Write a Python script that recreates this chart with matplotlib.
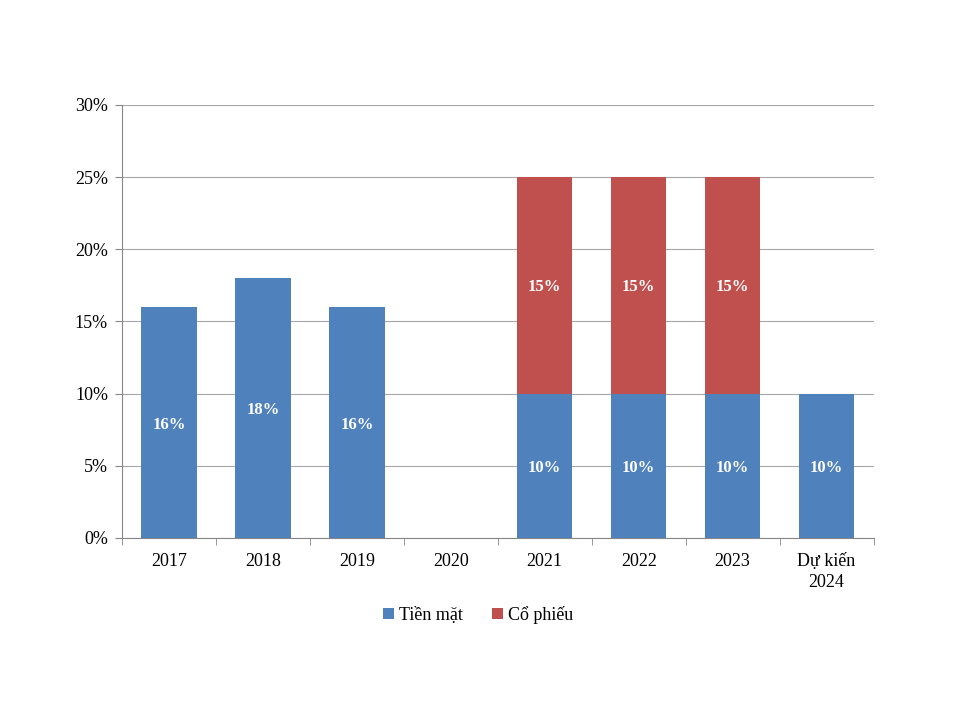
import matplotlib

matplotlib.use("Agg")

import matplotlib.pyplot as plt
import numpy as np
from matplotlib.ticker import FuncFormatter, MultipleLocator

categories = ["2017", "2018", "2019", "2020", "2021", "2022", "2023", "Dự kiến\n2024"]
tien_mat = [16, 18, 16, 0, 10, 10, 10, 10]
co_phieu = [0, 0, 0, 0, 15, 15, 15, 0]
series_names = ["Tiền mặt", "Cổ phiếu"]

BLUE = "#4f81bd"
RED = "#c0504d"
GRID = "#a6a6a6"

plt.rcParams["font.family"] = ["Liberation Serif", "DejaVu Serif"]

fig = plt.figure(figsize=(9.6, 7.2), dpi=100)
ax = fig.add_axes([0.127, 0.2528, 0.783, 0.6014])

x = np.arange(len(categories))
width = 0.59
b1 = ax.bar(x, tien_mat, width, color=BLUE, label=series_names[0], zorder=3)
b2 = ax.bar(x, co_phieu, width, bottom=tien_mat, color=RED, label=series_names[1], zorder=3)

# white bold value labels in the middle of each segment
for rect, val in zip(b1, tien_mat):
    if val:
        ax.text(rect.get_x() + rect.get_width() / 2, val / 2, f"{val}%",
                ha="center", va="center_baseline", color="white", fontsize=12,
                fontweight="bold", zorder=4)
for rect, base, val in zip(b2, tien_mat, co_phieu):
    if val:
        ax.text(rect.get_x() + rect.get_width() / 2, base + val / 2, f"{val}%",
                ha="center", va="center_baseline", color="white", fontsize=12,
                fontweight="bold", zorder=4)

ax.set_xlim(-0.5, len(categories) - 0.5)
ax.set_ylim(0, 30)
ax.yaxis.set_major_locator(MultipleLocator(5))
ax.yaxis.set_major_formatter(FuncFormatter(lambda v, _: f"{v:.0f}%"))
ax.grid(axis="y", color=GRID, linewidth=0.8, zorder=0)

ax.set_xticks(x)
ax.set_xticklabels(categories, linespacing=1.25)
ax.set_xticks(np.arange(-0.5, len(categories)), minor=True)
ax.tick_params(axis="x", which="major", length=0, pad=11, labelsize=13)
ax.tick_params(axis="x", which="minor", length=5, color="#868686")
ax.tick_params(axis="y", length=5, color="#868686", labelsize=13, pad=5)

for side in ("top", "right"):
    ax.spines[side].set_visible(False)
for side in ("left", "bottom"):
    ax.spines[side].set_color("#868686")

fig.legend(handles=[b1, b2], labels=series_names, loc="center", bbox_to_anchor=(0.498, 0.146),
           ncol=2, frameon=False, fontsize=13, handlelength=0.6, handleheight=0.6,
           handletextpad=0.3, columnspacing=1.6)

fig.savefig("out.png", dpi=100)
